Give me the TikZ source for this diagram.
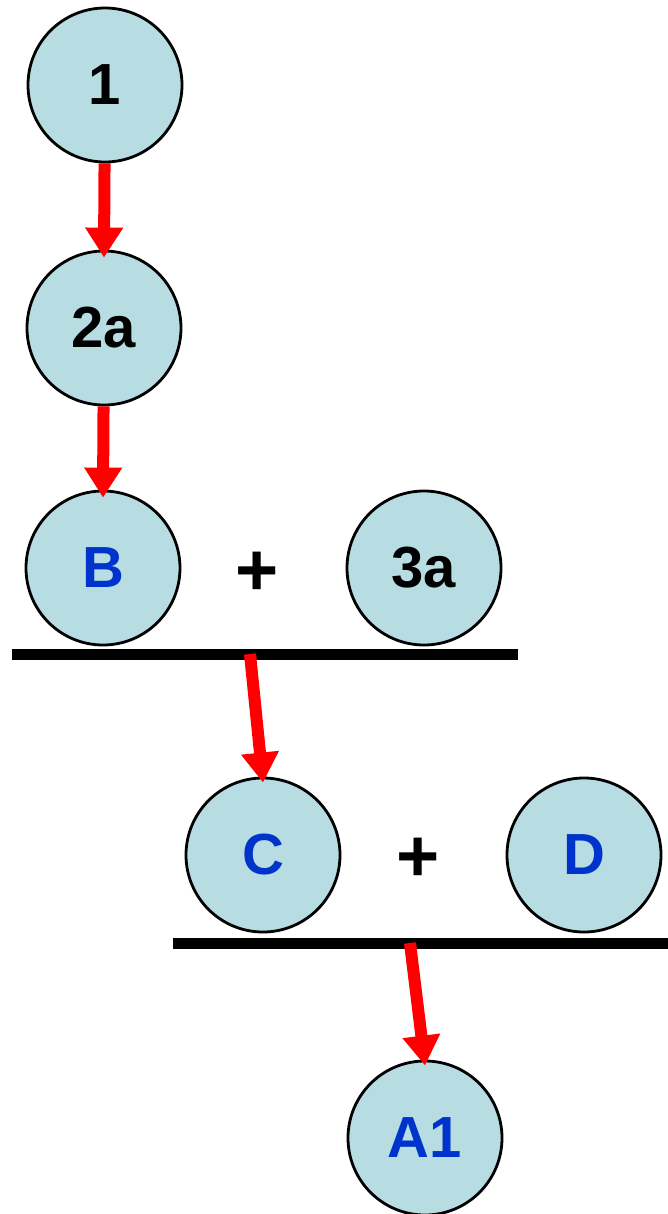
\documentclass[tikz,border=0pt]{standalone}
\usepackage{fontspec}
\setmainfont{Liberation Sans}
\usetikzlibrary{arrows.meta}
\definecolor{molfill}{RGB}{183,221,227}
\definecolor{molblue}{RGB}{0,51,204}
\definecolor{stepred}{RGB}{255,0,0}
\begin{document}
\begin{tikzpicture}[x=1pt,y=-1pt,every node/.style={font=\fontsize{58}{60}\selectfont\bfseries},
  mol/.style={circle,draw,line width=2.8pt,fill=molfill,minimum size=154pt,inner sep=0pt},
  plus/.style={font=\fontsize{74}{76}\selectfont\bfseries},
  react/.style={draw=stepred,line width=12pt,-{Triangle[width=36pt,length=30pt]}},
  bar/.style={line width=11pt}]
\useasboundingbox (0,0) rectangle (668,1214);
\node[mol] (n1) at (105,85) {1}; \node[mol] (n2a) at (104,328) {2a};
\node[mol,text=molblue] (nB) at (103,568) {B}; \node[plus] (plus1) at (257,574) {+}; \node[mol] (n3a) at (424,568) {3a};
\coordinate (bar1w) at (12,654); \coordinate (bar1e) at (518,654); \coordinate (bar1out) at (250,654);
\node[mol,text=molblue] (nC) at (263,855) {C}; \node[plus] (plus2) at (418,860) {+}; \node[mol,text=molblue] (nD) at (584,855) {D};
\coordinate (bar2w) at (173,943); \coordinate (bar2e) at (668,943); \coordinate (bar2out) at (410,943);
\node[mol,text=molblue] (nA1) at (425,1138) {A1};
\draw[bar] (bar1w)--(bar1e); \draw[bar] (bar2w)--(bar2e);
\draw[react] (n1)--([yshift=-8pt]n2a.north); \draw[react] (n2a)--([yshift=-8pt]nB.north);
\draw[react] (bar1out)--([yshift=-6pt]nC.north); \draw[react] (bar2out)--([yshift=-6pt]nA1.north);
\end{tikzpicture}
\end{document}
